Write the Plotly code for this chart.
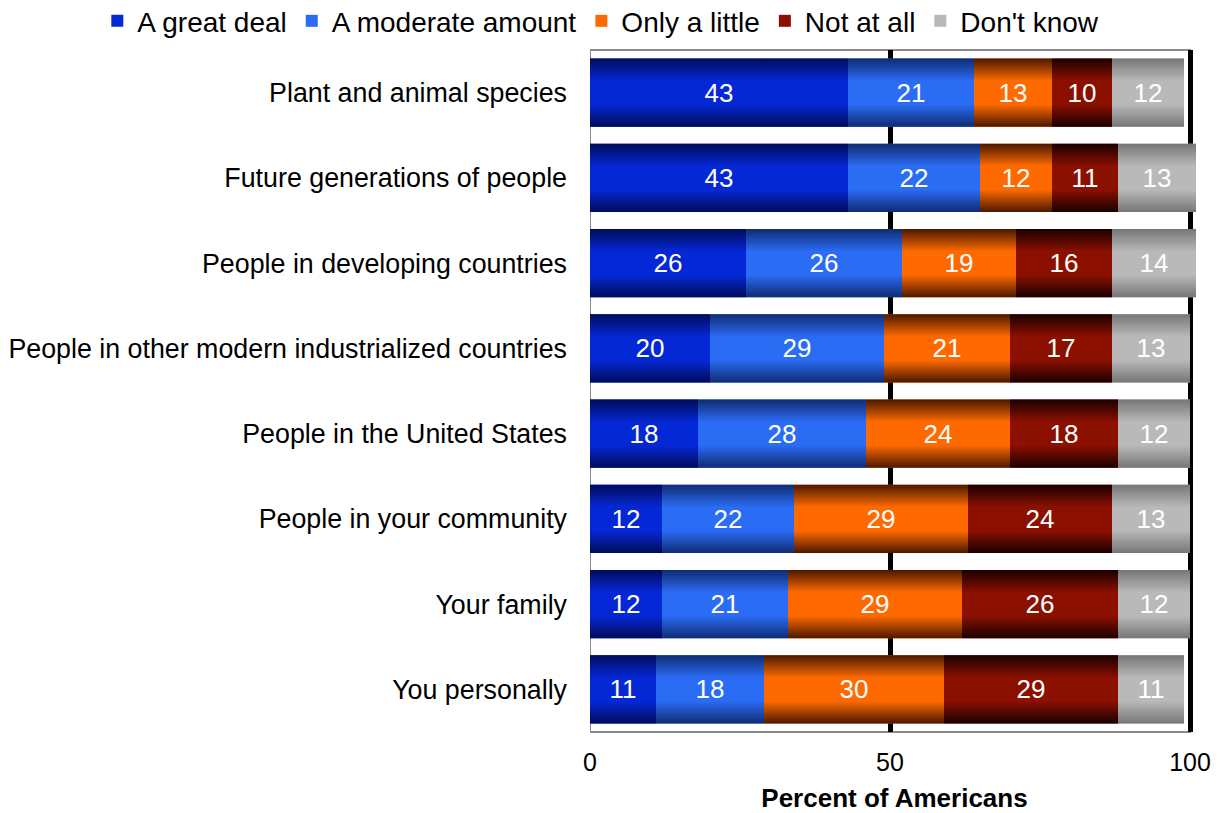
import plotly.graph_objects as go

categories = [
    "Plant and animal species",
    "Future generations of people",
    "People in developing countries",
    "People in other modern industrialized countries",
    "People in the United States",
    "People in your community",
    "Your family",
    "You personally",
]
series_names = ["A great deal", "A moderate amount", "Only a little", "Not at all", "Don't know"]
great_deal = [43, 43, 26, 20, 18, 12, 12, 11]
moderate_amount = [21, 22, 26, 29, 28, 22, 21, 18]
only_a_little = [13, 12, 19, 21, 24, 29, 29, 30]
not_at_all = [10, 11, 16, 17, 18, 24, 26, 29]
dont_know = [12, 13, 14, 13, 12, 13, 12, 11]
x_tick_values = [0, 50, 100]
x_title = "Percent of Americans"

series_values = [great_deal, moderate_amount, only_a_little, not_at_all, dont_know]
mid_colors = ["#0528d6", "#2a6cf4", "#ff6a00", "#8c1000", "#b9b9b9"]
edge_rgb = [(0, 12, 90), (16, 44, 115), (75, 24, 0), (26, 0, 0), (118, 118, 118)]

FONT = "Liberation Sans, Arial, sans-serif"
y_pos = list(range(len(categories)))
BAR_W = 0.8

fig = go.Figure()

bases = [0] * len(categories)
seg_list = []
for name, vals, col, erg in zip(series_names, series_values, mid_colors, edge_rgb):
    fig.add_trace(go.Bar(
        name=name,
        y=y_pos,
        x=vals,
        base=list(bases),
        orientation="h",
        width=BAR_W,
        marker=dict(color=col, line=dict(width=0)),
        text=[str(v) for v in vals],
        textposition="inside",
        insidetextanchor="middle",
        textangle=0,
        textfont=dict(color="white", size=26, family=FONT),
        hoverinfo="x+name",
    ))
    for i, v in enumerate(vals):
        seg_list.append((bases[i], bases[i] + v, i, erg))
        bases[i] += v

# vertical gradient shading on each segment
for x0, x1, i, (r, g, b) in seg_list:
    y0, y1 = i - BAR_W / 2, i + BAR_W / 2
    fig.add_trace(go.Scatter(
        x=[x0, x1, x1, x0, x0],
        y=[y0, y0, y1, y1, y0],
        mode="lines",
        line=dict(width=0),
        fill="toself",
        fillgradient=dict(
            type="vertical",
            colorscale=[
                [0.0, f"rgba({r},{g},{b},1)"],
                [0.33, f"rgba({r},{g},{b},0)"],
                [0.67, f"rgba({r},{g},{b},0)"],
                [1.0, f"rgba({r},{g},{b},1)"],
            ],
        ),
        showlegend=False,
        hoverinfo="skip",
    ))

fig.add_shape(type="rect", xref="x", yref="paper", x0=0, x1=100, y0=0, y1=1,
              line=dict(color="#8a8a8a", width=2), layer="below")

fig.update_layout(
    width=1221,
    height=813,
    margin=dict(l=590, r=22, t=50, b=81, autoexpand=False),
    paper_bgcolor="white",
    plot_bgcolor="white",
    barmode="overlay",
    font=dict(family=FONT, size=26, color="black"),
    showlegend=True,
    legend=dict(
        orientation="h",
        xref="paper", yref="paper",
        x=-0.809, xanchor="left",
        y=1.079, yanchor="top",
        font=dict(size=28, family=FONT),
        itemwidth=30,
        traceorder="normal",
        bgcolor="rgba(0,0,0,0)",
        tracegroupgap=0,
    ),
    xaxis=dict(
        range=[0, 101.5],
        tickvals=x_tick_values,
        ticktext=[str(v) for v in x_tick_values],
        showgrid=True,
        gridcolor="black",
        gridwidth=5,
        zeroline=False,
        showline=False,
        ticks="",
        ticklabelstandoff=13,
        tickfont=dict(size=25),
        title=dict(text="<b>" + x_title + "</b>", font=dict(size=26), standoff=17),
    ),
    yaxis=dict(
        range=[len(categories) - 0.5, -0.5],
        tickvals=y_pos,
        ticktext=categories,
        showgrid=False,
        zeroline=False,
        showline=False,
        ticks="",
        ticklabelstandoff=22,
        tickfont=dict(size=26.8),
    ),
)

fig.write_html("out.html", config={"displayModeBar": False},
               post_script="document.body.style.margin='0';")
